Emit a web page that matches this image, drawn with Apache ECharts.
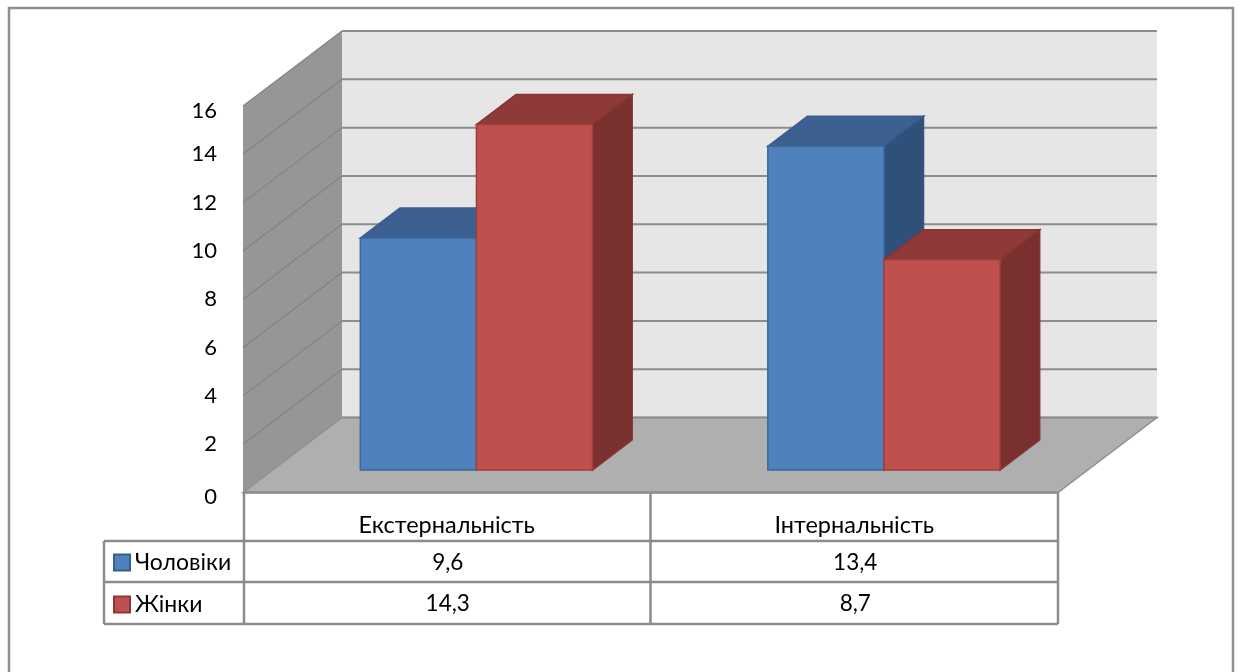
<!DOCTYPE html>
<html>
<head>
<meta charset="utf-8">
<style>html,body{margin:0;padding:0;background:#fff}#chart{width:1240px;height:672px}</style>
<script src="https://cdn.jsdelivr.net/npm/echarts@6/dist/echarts.min.js"></script>
</head>
<body>
<div id="chart"></div>
<script>
// Locus-of-control scores by gender, drawn as 3D-style columns over a data table
const categories = ['Екстернальність', 'Інтернальність'];
const men = [9.6, 13.4];
const women = [14.3, 8.7];
const seriesNames = ['Чоловіки', 'Жінки'];
const yTicks = [0, 2, 4, 6, 8, 10, 12, 14, 16];

const FONT = 'Lato, "Noto Sans", sans-serif';
const DEPTH_X = 99, DEPTH_Y = -75;          // full floor depth in pixels
const BAR_FRONT = 0.3, BAR_BACK = 0.7;      // bar position within the depth
const GRID_COLOR = '#8c8c8c';

const fmt = v => String(v).replace('.', ',');
const poly = (points, fill, stroke, lineWidth) => ({
  type: 'polygon',
  shape: { points },
  style: { fill, stroke: stroke || null, lineWidth: lineWidth || 0 },
  silent: true
});
const shift = (p, t) => [p[0] + DEPTH_X * t, p[1] + DEPTH_Y * t];

// One column: front, top and side faces, offset left or right of the category centre
function barRenderer(side, faces) {
  return function (params, api) {
    const cat = api.value(0), val = api.value(1);
    const half = api.size([1, 0])[0] * 0.285;
    const base = api.coord([cat, 0]);
    const top = api.coord([cat, val]);
    const x0 = base[0] + (side < 0 ? -half : 0);
    const x1 = x0 + half;
    const fBL = shift([x0, base[1]], BAR_FRONT), fBR = shift([x1, base[1]], BAR_FRONT);
    const fTL = shift([x0, top[1]], BAR_FRONT), fTR = shift([x1, top[1]], BAR_FRONT);
    const bTL = shift([x0, top[1]], BAR_BACK), bTR = shift([x1, top[1]], BAR_BACK);
    const bBR = shift([x1, base[1]], BAR_BACK);
    return {
      type: 'group',
      children: [
        poly([fTL, bTL, bTR, fTR], faces.top, faces.topEdge, 1.5),
        poly([fTR, bTR, bBR, fBR], faces.side, faces.sideEdge, 1.5),
        poly([fTL, fTR, fBR, fBL], faces.front, faces.frontEdge, 1.5)
      ]
    };
  };
}

// Left wall, back wall and floor, with a gridline per tick
function renderRoom(params, api) {
  const children = [];
  const x0 = api.coord([0, 0])[0] - api.size([1, 0])[0] / 2;
  const x1 = api.coord([1, 0])[0] + api.size([1, 0])[0] / 2;
  const y0 = api.coord([0, 0])[1];
  const yMax = api.coord([0, yTicks[yTicks.length - 1]])[1];
  children.push(poly([shift([x0, yMax], 1), shift([x1, yMax], 1), shift([x1, y0], 1), shift([x0, y0], 1)], '#e6e6e6'));
  children.push(poly([[x0, yMax], shift([x0, yMax], 1), shift([x0, y0], 1), [x0, y0]], '#969696'));
  children.push(poly([[x0, y0], shift([x0, y0], 1), shift([x1, y0], 1), [x1, y0]], '#afafaf', '#8f8f8f', 1.5));
  yTicks.forEach(t => {
    const y = api.coord([0, t])[1];
    if (t > 0) {
      children.push({ type: 'line', shape: { x1: x0, y1: y, x2: x0 + DEPTH_X, y2: y + DEPTH_Y }, style: { stroke: '#838383', lineWidth: 1.2 }, silent: true });
    }
    children.push({ type: 'line', shape: { x1: x0 + DEPTH_X, y1: y + DEPTH_Y, x2: x1 + DEPTH_X, y2: y + DEPTH_Y }, style: { stroke: GRID_COLOR, lineWidth: 2 }, silent: true });
  });
  return { type: 'group', children };
}

// Data table under the floor: rules and one value per category and row
function renderTable(params, api) {
  const half = api.size([1, 0])[0] / 2;
  const y0 = api.coord([0, 0])[1];
  const xL = api.coord([0, 0])[0] - half;
  const xM = api.coord([0, 0])[0] + half;
  const xR = api.coord([1, 0])[0] + half;
  const rows = [541, 582, 624];
  const line = (a, b, c, d) => ({ type: 'line', shape: { x1: a, y1: b, x2: c, y2: d }, style: { stroke: GRID_COLOR, lineWidth: 2.5 }, silent: true });
  const children = [
    line(xL + 1, y0, xR, y0),
    line(xL + 1, y0, xL + 1, rows[2]),
    line(xM, y0, xM, rows[2]),
    line(xR, y0, xR, rows[2]),
    line(104, rows[0], 104, rows[2])
  ];
  rows.forEach(r => children.push(line(104, r, xR, r)));
  [men, women].forEach((vals, r) => {
    vals.forEach((v, i) => {
      children.push({
        type: 'text',
        style: {
          text: fmt(v),
          x: api.coord([i, 0])[0] + 1,
          y: r === 0 ? 563 : 604,
          align: 'center',
          verticalAlign: 'middle',
          font: '22.5px ' + FONT,
          fill: '#000'
        },
        silent: true
      });
    });
  });
  return { type: 'group', children };
}

const chart = echarts.init(document.getElementById('chart'), null, { renderer: 'canvas' });
chart.setOption({
  animation: false,
  backgroundColor: '#fff',
  grid: { left: 243, right: 182, top: 106, bottom: 179.5, containLabel: false },
  xAxis: {
    type: 'category',
    data: categories,
    axisLine: { show: false },
    axisTick: { show: false },
    axisLabel: { margin: 21, fontSize: 23.5, fontFamily: FONT, color: '#000' }
  },
  yAxis: {
    type: 'value',
    min: 0,
    max: 16,
    interval: 2,
    splitLine: { show: false },
    axisLine: { show: false },
    axisTick: { show: false },
    axisLabel: {
      margin: 26,
      fontSize: 22,
      fontFamily: FONT,
      color: '#000',
      lineHeight: 9,
      verticalAlign: 'middle',
      verticalAlignMinLabel: 'top',
      verticalAlignMaxLabel: 'top'
    }
  },
  legend: {
    orient: 'vertical',
    left: 108,
    top: 546,
    icon: 'rect',
    itemWidth: 16,
    itemHeight: 16,
    itemGap: 19,
    selectedMode: false,
    data: seriesNames,
    textStyle: { fontSize: 23, fontFamily: FONT, color: '#000' }
  },
  graphic: [{
    type: 'rect',
    silent: true,
    z: -1,
    shape: { x: 9, y: 8, width: 1224, height: 700 },
    style: { fill: '#fff', stroke: '#8e8e8e', lineWidth: 2.5 }
  }],
  series: [
    {
      type: 'custom',
      name: 'room',
      coordinateSystem: 'cartesian2d',
      renderItem: renderRoom,
      data: [[0, 0]],
      z: 1,
      silent: true
    },
    {
      type: 'custom',
      name: seriesNames[0],
      coordinateSystem: 'cartesian2d',
      itemStyle: { color: '#4f81bd', borderColor: '#385d8a', borderWidth: 1.5 },
      renderItem: barRenderer(-1, { front: '#4f81bd', frontEdge: '#3d6899', top: '#3c6090', topEdge: '#3a5e8c', side: '#2f5078', sideEdge: '#365a85' }),
      encode: { x: 0, y: 1 },
      data: men.map((v, i) => [i, v]),
      z: 2
    },
    {
      type: 'custom',
      name: seriesNames[1],
      coordinateSystem: 'cartesian2d',
      itemStyle: { color: '#c0504d', borderColor: '#8c3836', borderWidth: 1.5 },
      renderItem: barRenderer(1, { front: '#c0504d', frontEdge: '#9c3f3c', top: '#8e3a38', topEdge: '#8a3331', side: '#7a302f', sideEdge: '#8a3331' }),
      encode: { x: 0, y: 1 },
      data: women.map((v, i) => [i, v]),
      z: 3
    },
    {
      type: 'custom',
      name: 'table',
      coordinateSystem: 'cartesian2d',
      renderItem: renderTable,
      data: [[0, 0]],
      z: 4,
      silent: true
    }
  ]
});
</script>
</body>
</html>
